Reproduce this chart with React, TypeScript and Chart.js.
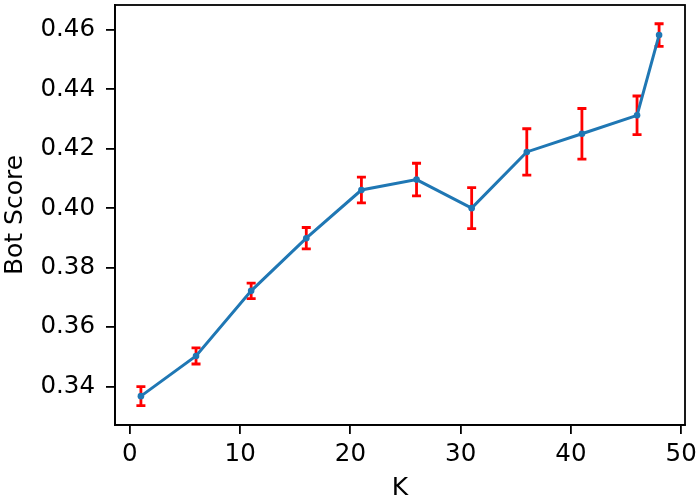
import React, { useEffect, useRef } from "react";
import { Chart, registerables } from "chart.js";

Chart.register(...registerables);

const kValues = [1, 6, 11, 16, 21, 26, 31, 36, 41, 46, 48];
const botScore = [0.3368, 0.3503, 0.3722, 0.3899, 0.4061, 0.4096, 0.4, 0.4189, 0.425, 0.4312, 0.4582];
const botError = [0.0032, 0.0027, 0.0026, 0.0036, 0.0043, 0.0055, 0.0069, 0.0078, 0.0085, 0.0065, 0.0038];
const xTicks = [0, 10, 20, 30, 40, 50];
const yTicks = [0.34, 0.36, 0.38, 0.4, 0.42, 0.44, 0.46];

const FONT = "DejaVu Sans";

const errorBarPlugin = {
  id: "errorBars",
  beforeDatasetsDraw(chart: any) {
    const { ctx, scales } = chart;
    const xs = scales.x;
    const ys = scales.y;
    ctx.save();
    ctx.strokeStyle = "#ff0000";
    ctx.lineWidth = 2.8;
    ctx.lineCap = "butt";
    const cap = 4.5;
    for (let i = 0; i < kValues.length; i++) {
      const px = xs.getPixelForValue(kValues[i]);
      const top = ys.getPixelForValue(botScore[i] + botError[i]);
      const bot = ys.getPixelForValue(botScore[i] - botError[i]);
      ctx.beginPath();
      ctx.moveTo(px, top);
      ctx.lineTo(px, bot);
      ctx.moveTo(px - cap, top);
      ctx.lineTo(px + cap, top);
      ctx.moveTo(px - cap, bot);
      ctx.lineTo(px + cap, bot);
      ctx.stroke();
    }
    ctx.restore();
  },
  afterDraw(chart: any) {
    const { ctx, chartArea } = chart;
    ctx.save();
    ctx.strokeStyle = "#000000";
    ctx.lineWidth = 1.8;
    ctx.strokeRect(chartArea.left, chartArea.top, chartArea.right - chartArea.left, chartArea.bottom - chartArea.top);
    ctx.restore();
  },
};

export default function App() {
  const ref = useRef<HTMLCanvasElement | null>(null);
  useEffect(() => {
    if (!ref.current) return;
    const chart = new Chart(ref.current, {
      type: "scatter",
      data: {
        datasets: [
          {
            data: kValues.map((k, i) => ({ x: k, y: botScore[i] })),
            showLine: true,
            borderColor: "#1f77b4",
            backgroundColor: "#1f77b4",
            borderWidth: 3,
            pointRadius: 3.3,
            pointBorderWidth: 0,
            pointHoverRadius: 3.3,
            clip: false as any,
          },
        ],
      },
      plugins: [errorBarPlugin],
      options: {
        animation: false,
        responsive: false,
        events: [],
        layout: { padding: { top: 5, right: 15, left: 0, bottom: 0 } },
        plugins: { legend: { display: false }, tooltip: { enabled: false } },
        scales: {
          x: {
            type: "linear",
            min: -1.35,
            max: 50.35,
            afterBuildTicks: (s: any) => {
              s.ticks = xTicks.map((v) => ({ value: v }));
            },
            afterFit: (s: any) => {
              s.height = 78;
              s.paddingLeft = 0;
              s.paddingRight = 0;
            },
            grid: { drawOnChartArea: false, drawTicks: true, tickLength: 9, color: "#000", lineWidth: 1.8 },
            border: { display: true, color: "#000", width: 1.8 },
            ticks: {
              color: "#000",
              font: { family: FONT, size: 24.5 },
              padding: 6,
              maxRotation: 0,
              autoSkip: false,
              callback: (v: any) => String(v),
            },
            title: {
              display: true,
              text: "K",
              color: "#000",
              font: { family: FONT, size: 25 },
              padding: { top: 0, bottom: 0 },
            },
          },
          y: {
            type: "linear",
            min: 0.3271,
            max: 0.4683,
            afterBuildTicks: (s: any) => {
              s.ticks = yTicks.map((v) => ({ value: v }));
            },
            afterFit: (s: any) => {
              s.width = 115;
              s.paddingTop = 0;
              s.paddingBottom = 0;
            },
            grid: { drawOnChartArea: false, drawTicks: true, tickLength: 9, color: "#000", lineWidth: 1.8 },
            border: { display: true, color: "#000", width: 1.8 },
            ticks: {
              color: "#000",
              font: { family: FONT, size: 24.5 },
              padding: 11,
              autoSkip: false,
              callback: (v: any) => Number(v).toFixed(2),
            },
            title: {
              display: true,
              text: "Bot Score",
              color: "#000",
              font: { family: FONT, size: 25 },
              padding: { top: 0, bottom: 0 },
            },
          },
        },
      },
    });
    return () => chart.destroy();
  }, []);
  return (
    <div style={{ position: "absolute", left: 0, top: 0, width: 700, height: 503, background: "#fff" }}>
      <canvas ref={ref} width={700} height={503} />
    </div>
  );
}
